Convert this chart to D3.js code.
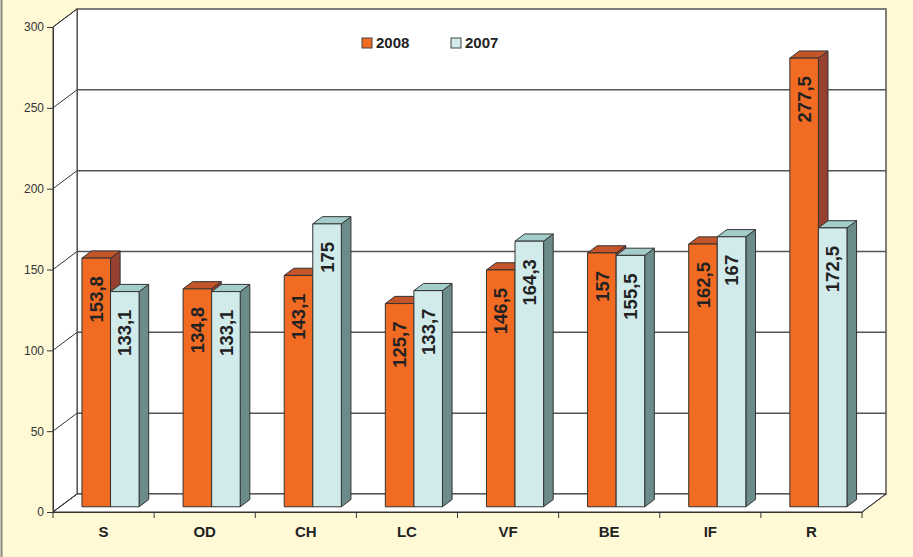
<!DOCTYPE html>
<html>
<head>
<meta charset="utf-8">
<script src="https://cdn.jsdelivr.net/npm/d3@7"></script>
<style>
  body { margin: 0; background: #fff9d6; }
  svg { display: block; font-family: "Liberation Sans", Arial, sans-serif; }
</style>
</head>
<body>
<div id="chart"></div>
<script>
const categories = ["S", "OD", "CH", "LC", "VF", "BE", "IF", "R"];
const seriesNames = ["2008", "2007"];
const values2008 = [153.8, 134.8, 143.1, 125.7, 146.5, 157, 162.5, 277.5];
const values2007 = [133.1, 133.1, 175, 133.7, 164.3, 155.5, 167, 172.5];
const yTicks = [0, 50, 100, 150, 200, 250, 300];

const width = 913, height = 557;
const depthX = 24, depthY = -18;   // full depth of the box
const barZ0 = 0.29, barZ1 = 0.69;  // bars sit inside the floor depth

const colors = {
    "2008": { front: "#f26b22", side: "#96412f", top: "#c4552b" },
    "2007": { front: "#d1eaea", side: "#6b8c8a", top: "#a2cdca" }
};

const svg = d3.select("#chart")
    .append("svg")
    .attr("width", width)
    .attr("height", height);

svg.append("rect")
    .attr("width", width).attr("height", height)
    .attr("fill", "#fff9d6");
svg.append("line")
    .attr("x1", 1.5).attr("x2", 1.5).attr("y1", 0).attr("y2", height)
    .attr("stroke", "#8a8a80").attr("stroke-width", 2);

const x = d3.scaleBand().domain(categories).range([53, 862]);
const xs = d3.scaleBand().domain(seriesNames).range([0, x.bandwidth()]).paddingOuter(0.77);
const y = d3.scaleLinear().domain([0, 300]).range([512, 27]);

const P = (px, py, z) => [px + depthX * z, py + depthY * z];
const poly = pts => "M" + pts.map(p => p.join(",")).join("L") + "Z";

const x0 = x.range()[0], x1 = x.range()[1];
const yTop = y(300), yBot = y(0);

// walls and floor
const walls = svg.append("g");
walls.append("path")
    .attr("d", poly([P(x0, yBot, 1), P(x1, yBot, 1), P(x1, yTop, 1), P(x0, yTop, 1)]))
    .attr("fill", "#fff").attr("stroke", "#555").attr("stroke-width", 1.5);
walls.append("path")
    .attr("d", poly([[x0, yBot], [x0, yTop], P(x0, yTop, 1), P(x0, yBot, 1)]))
    .attr("fill", "#fff").attr("stroke", "#333").attr("stroke-width", 1);
walls.append("path")
    .attr("d", poly([[x0, yBot], [x1, yBot], P(x1, yBot, 1), P(x0, yBot, 1)]))
    .attr("fill", "#fff").attr("stroke", "#333").attr("stroke-width", 1);

// grid lines on back wall and left wall
walls.selectAll(".grid")
    .data(yTicks.filter(v => v > 0 && v < 300))
    .enter().append("line")
    .attr("x1", P(x0, 0, 1)[0]).attr("x2", P(x1, 0, 1)[0])
    .attr("y1", d => P(0, y(d), 1)[1]).attr("y2", d => P(0, y(d), 1)[1])
    .attr("stroke", "#555").attr("stroke-width", 1.5);
walls.selectAll(".side")
    .data(yTicks)
    .enter().append("line")
    .attr("x1", x0).attr("y1", d => y(d))
    .attr("x2", P(x0, 0, 1)[0]).attr("y2", d => P(0, y(d), 1)[1])
    .attr("stroke", "#333").attr("stroke-width", 1);

// bars
const bars = [];
categories.forEach((c, i) => {
    bars.push({ cat: c, s: "2008", v: values2008[i] });
    bars.push({ cat: c, s: "2007", v: values2007[i] });
});

const barG = svg.append("g").selectAll("g")
    .data(bars)
    .enter().append("g");

function frontBox(d) {
    const left = x(d.cat) + xs(d.s) + depthX * barZ0;
    const right = left + xs.bandwidth();
    const top = y(d.v) + depthY * barZ0;
    const bottom = y(0) + depthY * barZ0;
    return { left, right, top, bottom };
}
const dz = barZ1 - barZ0;

barG.append("path")
    .attr("d", d => {
        const b = frontBox(d);
        return poly([[b.right, b.bottom], [b.right, b.top], P(b.right, b.top, dz), P(b.right, b.bottom, dz)]);
    })
    .attr("fill", d => colors[d.s].side).attr("stroke", "#333").attr("stroke-width", 1);
barG.append("path")
    .attr("d", d => {
        const b = frontBox(d);
        return poly([[b.left, b.top], [b.right, b.top], P(b.right, b.top, dz), P(b.left, b.top, dz)]);
    })
    .attr("fill", d => colors[d.s].top).attr("stroke", "#333").attr("stroke-width", 1);
barG.append("path")
    .attr("d", d => {
        const b = frontBox(d);
        return poly([[b.left, b.bottom], [b.left, b.top], [b.right, b.top], [b.right, b.bottom]]);
    })
    .attr("fill", d => colors[d.s].front).attr("stroke", "#333").attr("stroke-width", 1);

barG.append("text")
    .attr("transform", d => {
        const b = frontBox(d);
        return `translate(${(b.left + b.right) / 2},${b.top + 18}) rotate(-90)`;
    })
    .attr("text-anchor", "end")
    .attr("dy", "0.36em")
    .attr("font-size", 18.5)
    .attr("font-weight", "bold")
    .attr("fill", "#222")
    .text(d => String(d.v).replace(".", ","));

// Y axis
const yAxis = svg.append("g")
    .attr("transform", `translate(${x0},0)`)
    .call(d3.axisLeft(y).tickValues(yTicks).tickSize(6).tickSizeOuter(0).tickPadding(3));
yAxis.select(".domain").attr("stroke", "#333");
yAxis.selectAll(".tick line").attr("stroke", "#333");
yAxis.selectAll("text")
    .attr("font-size", 12)
    .attr("font-family", "Liberation Sans, Arial, sans-serif")
    .attr("fill", "#333");

// X axis
const xAxis = svg.append("g")
    .attr("transform", `translate(0,${yBot})`)
    .call(d3.axisBottom(x).tickSize(0).tickSizeOuter(0).tickPadding(14));
xAxis.select(".domain").attr("stroke", "#333");
xAxis.selectAll("text")
    .attr("font-size", 15)
    .attr("font-weight", "bold")
    .attr("font-family", "Liberation Sans, Arial, sans-serif")
    .attr("fill", "#222");
xAxis.selectAll(".bound")
    .data(categories.map(c => x(c)).concat([x1]))
    .enter().append("line")
    .attr("x1", d => d).attr("x2", d => d)
    .attr("y1", 0).attr("y2", 6)
    .attr("stroke", "#333");
svg.append("line")
    .attr("x1", x1).attr("y1", yBot)
    .attr("x2", P(x1, 0, 1)[0]).attr("y2", P(0, yBot, 1)[1])
    .attr("stroke", "#333");

// legend
const legend = svg.append("g").selectAll("g")
    .data(seriesNames)
    .enter().append("g")
    .attr("transform", (d, i) => `translate(${362 + i * 89},38)`);
legend.append("rect")
    .attr("width", 10).attr("height", 10)
    .attr("fill", d => colors[d].front)
    .attr("stroke", "#444");
legend.append("text")
    .attr("x", 14).attr("y", 10)
    .attr("font-size", 15)
    .attr("font-weight", "bold")
    .attr("fill", "#222")
    .text(d => d);
</script>
</body>
</html>
